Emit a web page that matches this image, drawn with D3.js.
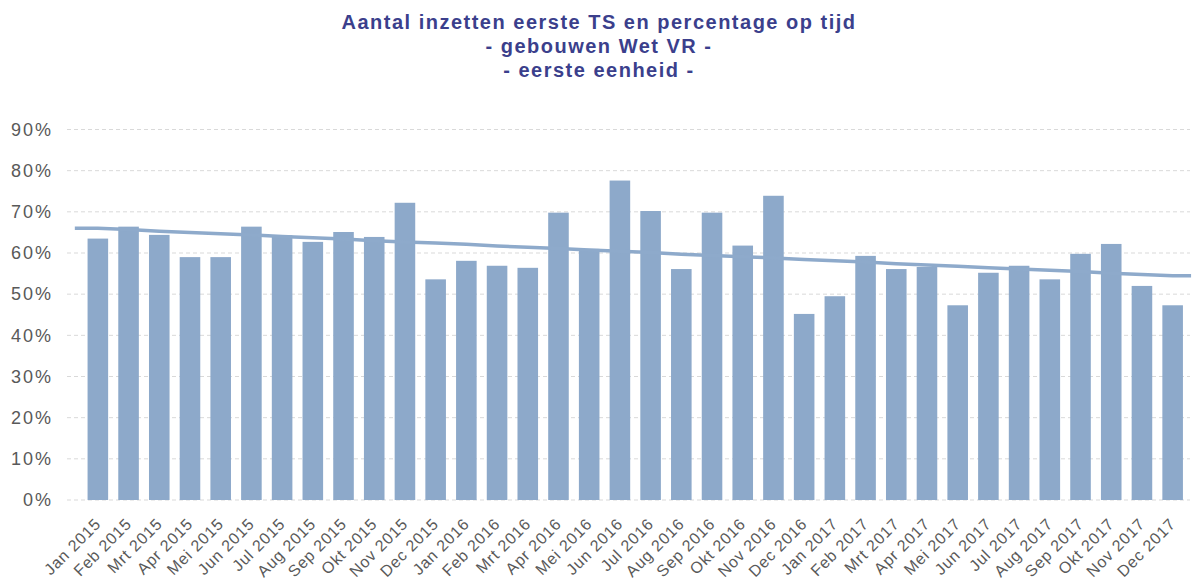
<!DOCTYPE html>
<html>
<head>
<meta charset="utf-8">
<script src="https://cdn.jsdelivr.net/npm/d3@7"></script>
<style>
  body { margin: 0; background: #fff; }
  svg { display: block; font-family: "Liberation Sans", Arial, sans-serif; }
</style>
</head>
<body>
<svg></svg>
<script>
// Chart data
const titleLines = ["Aantal inzetten eerste TS en percentage op tijd", "- gebouwen Wet VR -", "- eerste eenheid -"];

const months = [
  "Jan 2015", "Feb 2015", "Mrt 2015", "Apr 2015", "Mei 2015", "Jun 2015",
  "Jul 2015", "Aug 2015", "Sep 2015", "Okt 2015", "Nov 2015", "Dec 2015",
  "Jan 2016", "Feb 2016", "Mrt 2016", "Apr 2016", "Mei 2016", "Jun 2016",
  "Jul 2016", "Aug 2016", "Sep 2016", "Okt 2016", "Nov 2016", "Dec 2016",
  "Jan 2017", "Feb 2017", "Mrt 2017", "Apr 2017", "Mei 2017", "Jun 2017",
  "Jul 2017", "Aug 2017", "Sep 2017", "Okt 2017", "Nov 2017", "Dec 2017"
];

// percentage op tijd (bars)
const pctOnTime = [
  63.5, 66.4, 64.4, 59.0, 59.0, 66.4, 64.3, 62.7, 65.1, 63.9, 72.2, 53.6,
  58.1, 56.9, 56.4, 69.8, 61.0, 77.6, 70.2, 56.1, 69.8, 61.8, 73.9, 45.2,
  49.5, 59.3, 56.1, 56.6, 47.3, 55.2, 56.9, 53.6, 59.8, 62.2, 52.0, 47.3
];

// trend line (read per month)
const trend = [
  66.0, 65.7, 65.3, 65.0, 64.7, 64.4, 64.0, 63.7, 63.4, 63.0, 62.7, 62.4,
  62.1, 61.7, 61.4, 61.1, 60.7, 60.4, 60.1, 59.7, 59.4, 59.1, 58.8, 58.4,
  58.1, 57.8, 57.4, 57.1, 56.8, 56.4, 56.1, 55.8, 55.5, 55.1, 54.8, 54.5
];

const yTicks = [0, 10, 20, 30, 40, 50, 60, 70, 80, 90];

const data = months.map((m, i) => ({month: m, value: pctOnTime[i], trend: trend[i]}));

const width = 1193, height = 581;
const svg = d3.select("svg")
  .attr("width", width)
  .attr("height", height);

// Title
svg.append("g")
  .selectAll("text")
  .data(titleLines)
  .join("text")
    .attr("x", 599)
    .attr("y", (d, i) => 29 + i * 24)
    .attr("text-anchor", "middle")
    .attr("font-size", 20)
    .attr("font-weight", "bold")
    .attr("letter-spacing", 1.5)
    .attr("fill", "#3b3f8c")
    .text(d => d);

const x = d3.scaleBand()
  .domain(months)
  .range([82.5, 1188])
  .paddingInner(0.33)
  .paddingOuter(0.165);

const y = d3.scaleLinear()
  .domain([0, 90])
  .range([500, 129.5]);

// Gridlines
svg.append("g")
  .selectAll("line")
  .data(yTicks)
  .join("line")
    .attr("x1", 67)
    .attr("x2", 1190)
    .attr("y1", d => y(d))
    .attr("y2", d => y(d))
    .attr("stroke", "#d9d9d9")
    .attr("stroke-width", 1)
    .attr("stroke-dasharray", "4,3");

// Y axis labels
const yAxis = svg.append("g")
  .attr("transform", "translate(53,0)")
  .call(d3.axisLeft(y).tickValues(yTicks).tickSize(0).tickPadding(0).tickFormat(d => d + "%"));
yAxis.select(".domain").remove();
yAxis.selectAll("text")
  .attr("font-size", 18)
  .attr("letter-spacing", 2)
  .attr("font-family", "Liberation Sans, Arial, sans-serif")
  .attr("fill", "#595959");

// Bars
svg.append("g")
  .selectAll("rect")
  .data(data)
  .join("rect")
    .attr("x", d => x(d.month))
    .attr("y", d => y(d.value))
    .attr("width", x.bandwidth())
    .attr("height", d => y(0) - y(d.value))
    .attr("fill", "#8da9ca");

// Trend line
const cx = d => x(d.month) + x.bandwidth() / 2;
const line = d3.line()
  .x(d => d.x)
  .y(d => y(d.v));
const trendPts = [{x: cx(data[0]) - x.step() * 0.75, v: data[0].trend}]
  .concat(data.map(d => ({x: cx(d), v: d.trend})))
  .concat([{x: cx(data[data.length - 1]) + x.step() * 0.6, v: data[data.length - 1].trend}]);
svg.append("path")
  .datum(trendPts)
  .attr("fill", "none")
  .attr("stroke", "#8eaacb")
  .attr("stroke-width", 3.5)
  .attr("d", line);

// X axis labels
svg.append("g")
  .selectAll("text")
  .data(months)
  .join("text")
    .attr("transform", d => `translate(${x(d) + x.bandwidth() / 2 + 4},525) rotate(-45)`)
    .attr("text-anchor", "end")
    .attr("font-size", 16)
    .attr("letter-spacing", 0.8)
    .attr("fill", "#595959")
    .text(d => d);
</script>
</body>
</html>
